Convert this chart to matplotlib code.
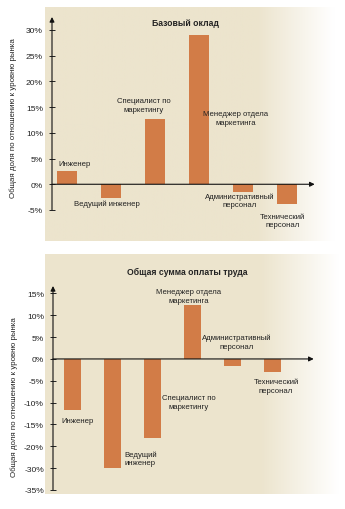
## import libraries for plotting
import matplotlib
matplotlib.use("Agg")
import matplotlib.pyplot as plt
import numpy as np

## data (percent vs. market level)
roles = ["Инженер", "Ведущий инженер", "Специалист по маркетингу",
         "Менеджер отдела маркетинга", "Административный персонал",
         "Технический персонал"]
base_salary = [2.5, -2.6, 12.7, 29.0, -1.5, -3.8]
roles_total = ["Инженер", "Ведущий инженер", "Специалист по маркетингу",
               "Менеджер отдела маркетинга", "Административный персонал",
               "Технический персонал"]
total_pay = [-11.6, -30.0, -18.0, 12.3, -1.6, -3.0]

top_ticks = [-5, 0, 5, 10, 15, 20, 25, 30]
bottom_ticks = [15, 10, 5, 0, -5, -10, -15, -20, -30, -35]

top_title = "Базовый оклад"
bottom_title = "Общая сумма оплаты труда"
ylabel = "Общая доля по отношению к уровню рынка"

## label text and placement (layout only)
top_labels = ["Инженер", "Ведущий инженер", "Специалист по\nмаркетингу",
              "Менеджер отдела\nмаркетинга", "Административный\nперсонал",
              "Технический\nперсонал"]
top_label_pos = [(0.18, 4.1), (0.91, -3.7), (1.74, 15.4), (3.84, 12.9),
                 (3.93, -3.1), (4.89, -7.0)]
bottom_labels = ["Инженер", "Ведущий\nинженер", "Специалист по\nмаркетингу",
                 "Менеджер отдела\nмаркетинга", "Административный\nперсонал",
                 "Технический\nперсонал"]
bottom_label_pos = [(0.13, -14.0), (1.7, -25.4), (2.9, -9.8), (2.9, 14.4),
                    (4.1, 3.9), (5.08, -6.2)]

bar_color = "#d27c47"
bg_color = np.array([236, 228, 205]) / 255.0
FONT = ["Liberation Sans Narrow", "Liberation Sans", "DejaVu Sans"]
plt.rcParams["font.family"] = FONT

LABEL_FS = 5.6
W, H = 345, 510
fig = plt.figure(figsize=(W / 100, H / 100), dpi=100)


def px_box(x0, y0, x1, y1):
    ## pixel box (top-left origin) -> figure fraction rect
    return [x0 / W, (H - y1) / H, (x1 - x0) / W, (y1 - y0) / H]


def background(x0, y0, x1, y1):
    bg = fig.add_axes(px_box(x0, y0, x1, y1), zorder=-5)
    n = 300
    t = np.linspace(0, 1, n)
    fade = np.clip((t - 0.72) / 0.26, 0, 1)[:, None]
    row = bg_color * (1 - fade) + np.ones(3) * fade
    bg.imshow(row[None, :, :], aspect="auto", extent=(0, 1, 0, 1))
    bg.axis("off")


## scale for the lower panel: -20 .. -30 is squeezed into one step
def fwd(v):
    v = np.asarray(v, dtype=float)
    return np.where(v >= -20, v, np.where(v >= -30, -20 + (v + 20) * 0.5, v + 5))


def inv(s):
    s = np.asarray(s, dtype=float)
    return np.where(s >= -20, s, np.where(s >= -25, -20 + (s + 20) * 2, s - 5))


def style_axes(ax, ymin):
    ax.set_facecolor("none")
    for sp in ax.spines.values():
        sp.set_visible(False)
    ax.set_xticks([])
    ax.tick_params(axis="y", direction="inout", length=5, width=0.7,
                   labelsize=6.1, pad=4, colors="#222222")
    ## axes with arrow heads
    ax.annotate("", xy=(0, 1), xycoords="axes fraction",
                xytext=(0, ymin), textcoords=("axes fraction", "data"),
                arrowprops=dict(arrowstyle="-|>", lw=0.8, color="#111111",
                                mutation_scale=7, shrinkA=0, shrinkB=0))
    ax.annotate("", xy=(0.995, 0), xycoords=("axes fraction", "data"),
                xytext=(0, 0), textcoords=("axes fraction", "data"),
                arrowprops=dict(arrowstyle="-|>", lw=0.8, color="#111111",
                                mutation_scale=7, shrinkA=0, shrinkB=0))
    ax.axhline(ymin, xmin=0, xmax=1.0, color="#444444", lw=0.6, ls=(0, (2, 1.5)))


## ---- top panel: base salary ----
background(45, 8, 340, 242)
ax1 = fig.add_axes(px_box(52, 18, 316, 211))
x1 = np.arange(len(roles))
ax1.bar(x1, base_salary, width=0.46, color=bar_color, zorder=3)
ax1.set_xlim(-0.342, 5.66)
ax1.set_ylim(-5, 32.5)
ax1.set_yticks(top_ticks)
ax1.set_yticklabels([f"{t}%" for t in top_ticks])
style_axes(ax1, -5)
for txt, (lx, ly) in zip(top_labels, top_label_pos):
    ax1.text(lx, ly, txt, ha="center", va="center", fontsize=LABEL_FS,
             color="#222222", linespacing=1.3)
fig.text(185 / W, 1 - 23 / H, top_title, ha="center", va="center",
         fontsize=6.2, fontweight="bold", color="#222222")
fig.text(13 / W, 1 - 118 / H, ylabel, rotation=90, ha="center", va="center",
         fontsize=5.7, color="#222222")

## ---- bottom panel: total pay ----
background(45, 255, 345, 495)
ax2 = fig.add_axes(px_box(53, 287, 315, 491))
ax2.set_yscale("function", functions=(fwd, inv))
x2 = np.arange(len(roles_total))
ax2.bar(x2, total_pay, width=0.425, color=bar_color, zorder=3)
ax2.set_xlim(-0.475, 6.05)
ax2.set_ylim(-35, 16.7)
ax2.set_yticks(bottom_ticks)
ax2.set_yticklabels([f"{t}%" for t in bottom_ticks])
ax2.minorticks_off()
style_axes(ax2, -35)
for txt, (lx, ly) in zip(bottom_labels, bottom_label_pos):
    ax2.text(lx, ly, txt, ha="center", va="center", fontsize=LABEL_FS,
             color="#222222", linespacing=1.3)
fig.text(187 / W, 1 - 272 / H, bottom_title, ha="center", va="center",
         fontsize=6.2, fontweight="bold", color="#222222")
fig.text(14 / W, 1 - 397 / H, ylabel, rotation=90, ha="center", va="center",
         fontsize=5.7, color="#222222")

fig.savefig("out.png", dpi=100)
